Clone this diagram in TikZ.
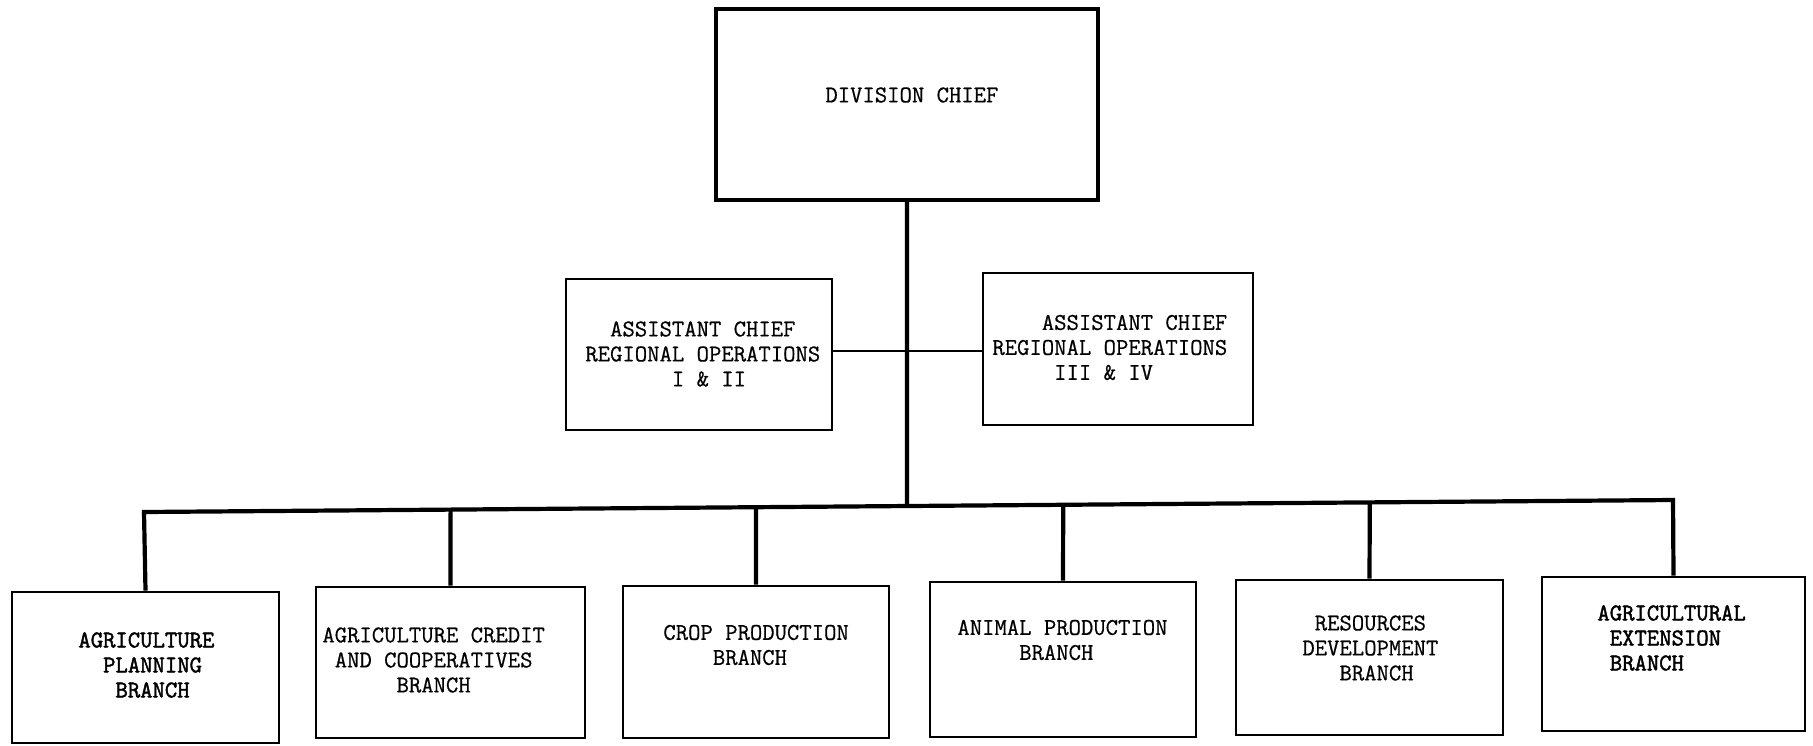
\documentclass[tikz,border=0pt]{standalone}
\usepackage{fontspec}
\usetikzlibrary{fit}
% typewriter faces: regular ink and heavier ink
\newfontfamily\tw{Latin Modern Mono}[FakeBold=0.6]
\newfontfamily\twdark{Latin Modern Mono}[FakeBold=1.8]
\begin{document}
\begin{tikzpicture}[x=0.5pt, y=-0.5pt,
  box/.style={draw=black, line width=1.4pt, inner sep=0pt, fill=none},
  topbox/.style={box, line width=1.8pt},
  txt/.style={inner sep=0pt, align=left, anchor=west,
    font=\fontsize{12}{12.5}\selectfont\tw},
  darktxt/.style={txt, font=\fontsize{12}{12.5}\selectfont\twdark},
  trunk/.style={line width=2.1pt},
  thin/.style={line width=1pt}]
\useasboundingbox (0,0) rectangle (1813,745);

% Division chief
\node[topbox, fit={(716,9) (1098,200)}] (dc) {};
\node[txt] (tdc) at (825,95) {DIVISION CHIEF};

% Assistant chiefs
\node[box, fit={(566,279) (832,430)}] (aL) {};
\node[txt] (taL) at (585,354) {\phantom{AA}ASSISTANT CHIEF\\REGIONAL OPERATIONS\\\phantom{AAAAAAA}I \& II};
\node[box, fit={(983,273) (1253,425)}] (aR) {};
\node[txt] (taR) at (992,347.5) {\phantom{AAAA}ASSISTANT CHIEF\\REGIONAL OPERATIONS\\\phantom{AAAAA}III \& IV};

% Branches
\node[box, fit={(12,592) (279,743)}] (b1) {};
\node[darktxt] (tb1) at (78,665) {AGRICULTURE\\\phantom{AA}PLANNING\\\phantom{AAA}BRANCH};
\node[box, fit={(316,587) (585,738)}] (b2) {};
\node[txt] (tb2) at (322,660) {AGRICULTURE CREDIT\\\phantom{A}AND COOPERATIVES\\\phantom{AAAAAA}BRANCH};
\node[box, fit={(623,586) (889,738)}] (b3) {};
\node[txt] (tb3) at (663,645) {CROP PRODUCTION\\\phantom{AAAA}BRANCH};
\node[box, fit={(930,582) (1196,737)}] (b4) {};
\node[txt] (tb4) at (957,640) {ANIMAL PRODUCTION\\\phantom{AAAAA}BRANCH};
\node[box, fit={(1236,580) (1503,735)}] (b5) {};
\node[txt] (tb5) at (1302,648) {\phantom{A}RESOURCES\\DEVELOPMENT\\\phantom{AAA}BRANCH};
\node[box, fit={(1542,577) (1805,731)}] (b6) {};
\node[darktxt] (tb6) at (1597,638) {AGRICULTURAL\\\phantom{A}EXTENSION\\\phantom{A}BRANCH};

% Bus line ends and the level of the assistants' link
\coordinate (busL) at (144,512);
\coordinate (busR) at (1673,500);
\coordinate (link) at (0,351);

% Connectors
\draw[thin] (aL.east |- link) -- (aR.west |- link);
\draw[trunk] (dc.south) -- (intersection of busL--busR and dc.south--dc.north);
\draw[trunk, line join=miter] (b1.north) -- (busL) -- (busR) -- (b6.north);
\foreach \b in {b2,b3,b4,b5}{
  \draw[trunk] (\b.north) -- (intersection of busL--busR and \b.north--\b.south);
}
\end{tikzpicture}
\end{document}
